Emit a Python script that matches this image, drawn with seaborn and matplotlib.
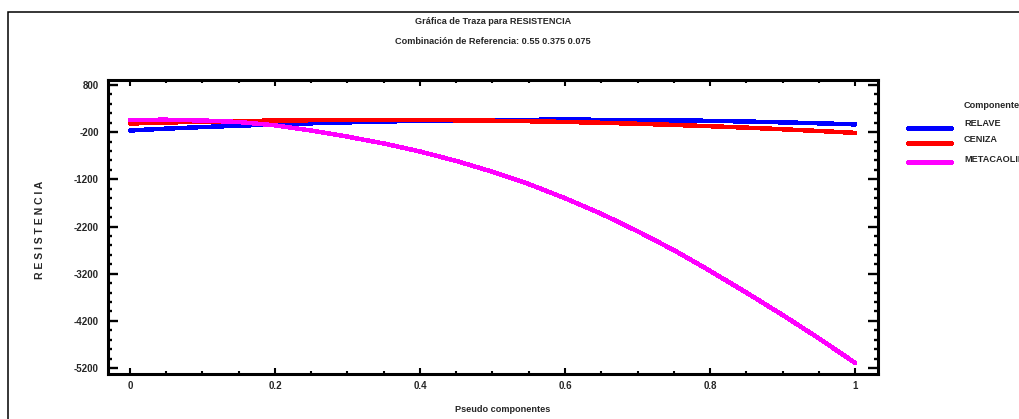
import matplotlib
matplotlib.use("Agg")
import matplotlib.pyplot as plt
import numpy as np
import pandas as pd
import seaborn as sns
from matplotlib import font_manager
from matplotlib.lines import Line2D
from matplotlib.patches import Rectangle
from matplotlib.ticker import MultipleLocator

# ---- data -------------------------------------------------------------
pseudo = [0.00, 0.05, 0.10, 0.15, 0.20, 0.25, 0.30, 0.35, 0.40, 0.45, 0.50,
          0.55, 0.60, 0.65, 0.70, 0.75, 0.80, 0.85, 0.90, 0.95, 1.00]

relave = [-165, -125, -92, -62, -36, -12, 8, 26, 40, 51, 59,
          63, 65, 63, 59, 51, 40, 26, 8, -12, -35]
ceniza = [-16, 5, 21, 35, 46, 53, 58, 59, 57, 52, 43,
          32, 17, -1, -22, -46, -74, -104, -138, -175, -215]
metacaolin = [62, 64, 48, 15, -55, -165, -295, -440, -610, -810, -1040,
              -1300, -1600, -1930, -2300, -2700, -3140, -3600, -4075, -4570, -5090]

componentes = ["RELAVE", "CENIZA", "METACAOLIN"]
colores = ["#0000ff", "#ff0000", "#ff00ff"]

x_ticks = [0, 0.2, 0.4, 0.6, 0.8, 1.0]
x_tick_labels = ["0", "0.2", "0.4", "0.6", "0.8", "1"]
y_ticks = [800, -200, -1200, -2200, -3200, -4200, -5200]
y_tick_labels = ["800", "-200", "-1200", "-2200", "-3200", "-4200", "-5200"]

titulo = "Gráfica de Traza para RESISTENCIA"
subtitulo = "Combinación de Referencia: 0.55 0.375 0.075"
etiqueta_x = "Pseudo componentes"
etiqueta_y = "RESISTENCIA"
titulo_leyenda = "Componente"

# ---- long table for seaborn --------------------------------------------
df = pd.DataFrame({
    "pseudo": pseudo * 3,
    "resistencia": relave + ceniza + metacaolin,
    "componente": [c for c in componentes for _ in pseudo],
})

# ---- style -------------------------------------------------------------
sns.set_style("ticks")
names = {f.name for f in font_manager.fontManager.ttflist}
if "Liberation Sans Narrow" in names:
    narrow, fs, fs_ticks = "Liberation Sans Narrow", 8, 8
else:
    narrow, fs, fs_ticks = "Liberation Sans", 6.6, 7
plt.rcParams["font.family"] = [narrow, "DejaVu Sans"]

W, H = 1019, 419
fig = plt.figure(figsize=(W / 100, H / 100), dpi=100, facecolor="white")

def fx(px):
    return px / W

def fy(py):
    return 1 - py / H

ax = fig.add_axes([fx(108), fy(374), 770 / W, 294 / H])
ax.set_facecolor("white")

palette = dict(zip(componentes, colores))
lw = 2.5
sns.lineplot(data=df, x="pseudo", y="resistencia", hue="componente",
             hue_order=componentes, palette=palette, linewidth=lw,
             antialiased=False, estimator=None, legend=False, ax=ax)

ax.set_xlim(-0.0303, 1.0317)
ax.set_ylim(-5327, 906)
ax.set_xlabel("")
ax.set_ylabel("")

ax.set_xticks(x_ticks)
ax.set_xticklabels(x_tick_labels)
ax.xaxis.set_minor_locator(MultipleLocator(0.05))
ax.set_yticks(y_ticks)
ax.set_yticklabels(y_tick_labels)
ax.yaxis.set_minor_locator(MultipleLocator(200))

ax.tick_params(which="both", direction="in", top=True, right=True, color="black")
ax.tick_params(axis="x", which="major", length=4.5, width=1.5, pad=5)
ax.tick_params(axis="x", which="minor", length=2.2, width=1.5)
ax.tick_params(axis="y", which="major", length=7, width=1.7, pad=6.5)
ax.tick_params(axis="y", which="minor", length=3, width=1.7)
for lab in ax.get_xticklabels() + ax.get_yticklabels():
    lab.set_fontsize(fs_ticks)
    lab.set_fontweight("bold")
for s in ax.spines.values():
    s.set_linewidth(2.2)
    s.set_color("black")

# ---- titles and axis labels ----------------------------------------------
fig.text(fx(493), fy(22), titulo, ha="center", va="center", fontsize=fs, fontweight="bold")
fig.text(fx(493), fy(41), subtitulo, ha="center", va="center", fontsize=fs, fontweight="bold")
fig.text(fx(503), fy(409), etiqueta_x, ha="center", va="center", fontsize=fs, fontweight="bold")
fig.text(fx(40), fy(230), " ".join(etiqueta_y), ha="center", va="center", rotation=90,
         fontsize=7.5, fontweight="bold", family=["Liberation Sans", "DejaVu Sans"])

# ---- legend ---------------------------------------------------------------
fig.text(fx(964), fy(105), titulo_leyenda, ha="left", va="center", fontsize=fs, fontweight="bold")
for comp, col, ly, ty in zip(componentes, colores, [128, 143, 162], [123, 139, 160]):
    fig.add_artist(Line2D([fx(908), fx(951)], [fy(ly), fy(ly)], color=col,
                          linewidth=lw, antialiased=False, transform=fig.transFigure))
    fig.text(fx(964), fy(ty), comp, ha="left", va="center", fontsize=fs, fontweight="bold")

# ---- outer frame --------------------------------------------------------------
fig.add_artist(Rectangle((fx(8), -0.1), 1.2, fy(12) + 0.1, transform=fig.transFigure,
                         fill=False, edgecolor="black", linewidth=1.1))

fig.savefig("out.png", dpi=100, facecolor="white")
